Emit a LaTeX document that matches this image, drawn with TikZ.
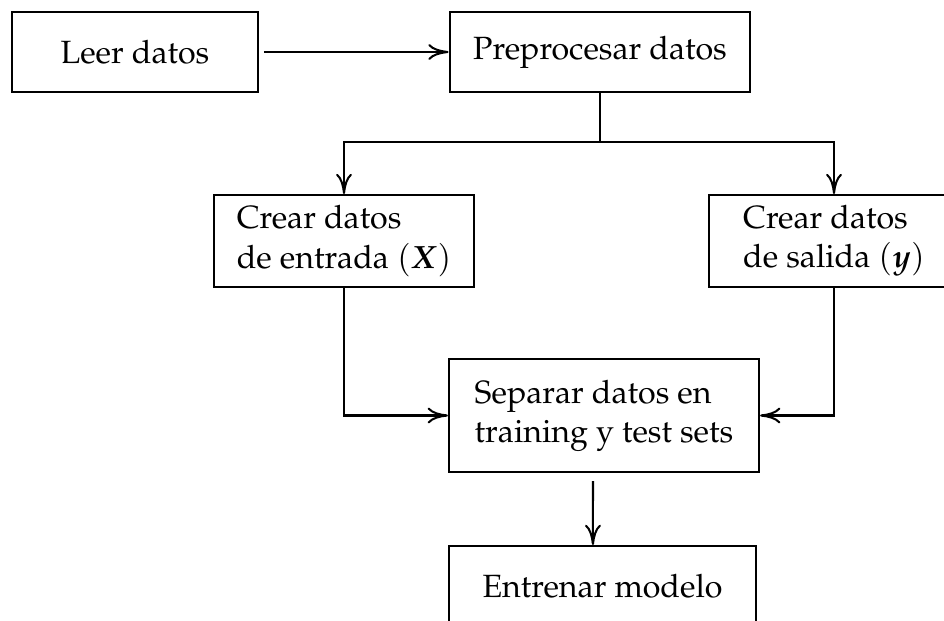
\documentclass[tikz,border=0pt]{standalone}
\usepackage[T1]{fontenc}
\usepackage{amsmath}
\usepackage{amssymb}
\usepackage{mathpazo}
\usepackage{pgf,tikz}
\usetikzlibrary{shapes, arrows, arrows.meta, positioning}
\tikzstyle{paso} = [draw, rectangle, line width=0.7pt, minimum height=27.6pt, inner xsep=8pt, inner ysep=3.5pt, align=left, font=\fontsize{11.1}{13.5}\selectfont]
\tikzstyle{flecha} = [line width=0.7pt, -{To[length=7pt,width=5.5pt]}]
\tikzstyle{linea} = [line width=0.7pt]

\begin{document}
\begin{tikzpicture}[x=0.345pt, y=-0.345pt]
	\useasboundingbox (0,0) rectangle (944,620);
	\node [paso, minimum width=84.9pt] (leer) at (135,52) {Leer datos};
	\node [paso, minimum width=103.8pt] (prep) at (600,52) {Preprocesar datos};
	\node [paso, minimum width=86.3pt, minimum height=31.7pt] (crearx) at (344,241) {Crear datos\\de entrada $(\boldsymbol{X})$};
	\node [paso, minimum width=86.3pt, minimum height=31.7pt] (creary) at (834,241) {Crear datos\\de salida $(\boldsymbol{y})$};
	\node [paso, minimum width=107pt, minimum height=39pt] (separar) at (604,415.5) {Separar datos en\\training y test sets};
	\node [paso, minimum width=106pt] (entrenar) at (602.5,586) {Entrenar modelo};
	\coordinate (bif) at (600,142);
	% flechas
	\draw [flecha, shorten <=1.7pt] (leer) -- (prep);
	\draw [linea] (prep) -- (bif);
	\draw [flecha] (bif) -| (crearx);
	\draw [flecha] (bif) -| (creary);
	\draw [flecha] (crearx) |- (separar);
	\draw [flecha] (creary) |- (separar);
	\draw [flecha] ([xshift=-3.8pt, yshift=-2.8pt]separar.south) -- ([xshift=-3.3pt]entrenar.north);
\end{tikzpicture}
\end{document}
